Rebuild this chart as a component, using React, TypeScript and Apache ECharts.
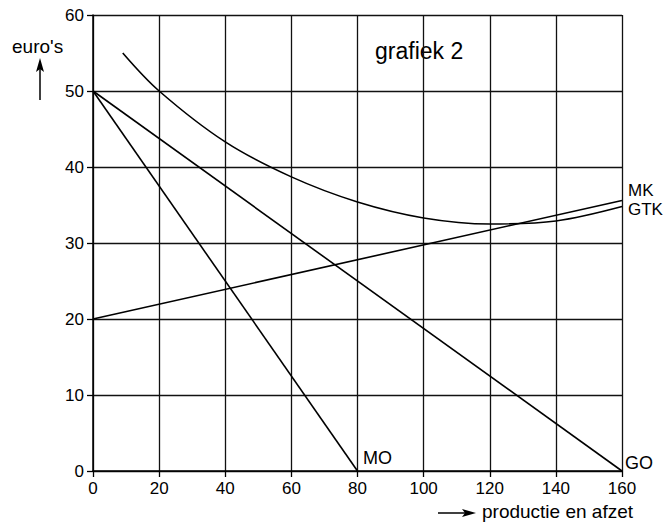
import React, { useEffect, useRef } from "react";
import * as echarts from "echarts";

const xTicks = [0, 20, 40, 60, 80, 100, 120, 140, 160];
const yTicks = [0, 10, 20, 30, 40, 50, 60];

const goLine: [number, number][] = [[0, 50], [160, 0]];
const moLine: [number, number][] = [[0, 50], [80, 0]];
const mkLine: [number, number][] = [[0, 20], [160, 35.6]];
const gtkCurve: [number, number][] = [
  [9, 55], [20, 50], [40, 43.3], [60, 38.7],
  [80, 35.4], [100, 33.3], [120, 32.5], [140, 32.9], [160, 34.8],
];

const FONT = "'Liberation Sans', Arial, sans-serif";

export default function App() {
  const ref = useRef<HTMLDivElement>(null);
  useEffect(() => {
    if (!ref.current) return;
    const chart = echarts.init(ref.current, null, { renderer: "svg" });
    const lineStyle = { color: "#000", width: 1.6 };
    const mkSeries = (name: string, data: [number, number][], smooth: number | boolean = false) => ({
      name,
      type: "line",
      data,
      smooth,
      showSymbol: false,
      symbol: "none",
      lineStyle,
      z: 3,
    });
    chart.setOption({
      animation: false,
      backgroundColor: "#fff",
      grid: { left: 93, right: 47, top: 15, bottom: 56 },
      xAxis: {
        type: "value",
        min: xTicks[0],
        max: xTicks[xTicks.length - 1],
        interval: 20,
        axisLine: { show: true, lineStyle: { color: "#000", width: 1.5 } },
        axisTick: { show: true, length: 6, lineStyle: { color: "#000", width: 1.3 } },
        axisLabel: { color: "#000", fontSize: 17, fontFamily: FONT, margin: 9 },
        splitLine: { show: true, lineStyle: { color: "#111", width: 1.3 } },
      },
      yAxis: {
        type: "value",
        min: yTicks[0],
        max: yTicks[yTicks.length - 1],
        interval: 10,
        axisLine: { show: true, lineStyle: { color: "#000", width: 1.5 } },
        axisTick: { show: true, length: 6, lineStyle: { color: "#000", width: 1.3 } },
        axisLabel: { color: "#000", fontSize: 17, fontFamily: FONT, margin: 9 },
        splitLine: { show: true, lineStyle: { color: "#111", width: 1.3 } },
      },
      series: [
        mkSeries("GO", goLine),
        mkSeries("MO", moLine),
        mkSeries("MK", mkLine),
        mkSeries("GTK", gtkCurve, 0.35),
      ],
      graphic: [
        { type: "text", left: 12, top: 37, style: { text: "euro's", fontSize: 19, fontFamily: FONT, fill: "#000" } },
        { type: "line", shape: { x1: 40, y1: 100, x2: 40, y2: 66 }, style: { stroke: "#000", lineWidth: 1.5 } },
        { type: "polygon", shape: { points: [[40, 58], [36, 72], [40, 69], [44, 72]] }, style: { fill: "#000" } },
        { type: "text", left: 375, top: 39, style: { text: "grafiek 2", fontSize: 23, fontFamily: FONT, fill: "#000" } },
        { type: "line", shape: { x1: 438, y1: 513, x2: 468, y2: 513 }, style: { stroke: "#000", lineWidth: 1.5 } },
        { type: "polygon", shape: { points: [[476, 513], [462, 509], [465, 513], [462, 517]] }, style: { fill: "#000" } },
        { type: "text", left: 482, top: 502, style: { text: "productie en afzet", fontSize: 19, fontFamily: FONT, fill: "#000" } },
        { type: "text", left: 363, top: 449, style: { text: "MO", fontSize: 18, fontFamily: FONT, fill: "#000" } },
        { type: "text", left: 625, top: 454, style: { text: "GO", fontSize: 18, fontFamily: FONT, fill: "#000" } },
        { type: "text", left: 628, top: 182, style: { text: "MK", fontSize: 17, fontFamily: FONT, fill: "#000" } },
        { type: "text", left: 628, top: 201, style: { text: "GTK", fontSize: 17, fontFamily: FONT, fill: "#000" } },
      ],
    });
    return () => chart.dispose();
  }, []);
  return (
    <div
      ref={ref}
      style={{ position: "absolute", left: 0, top: 0, width: 669, height: 527, background: "#fff" }}
    />
  );
}
